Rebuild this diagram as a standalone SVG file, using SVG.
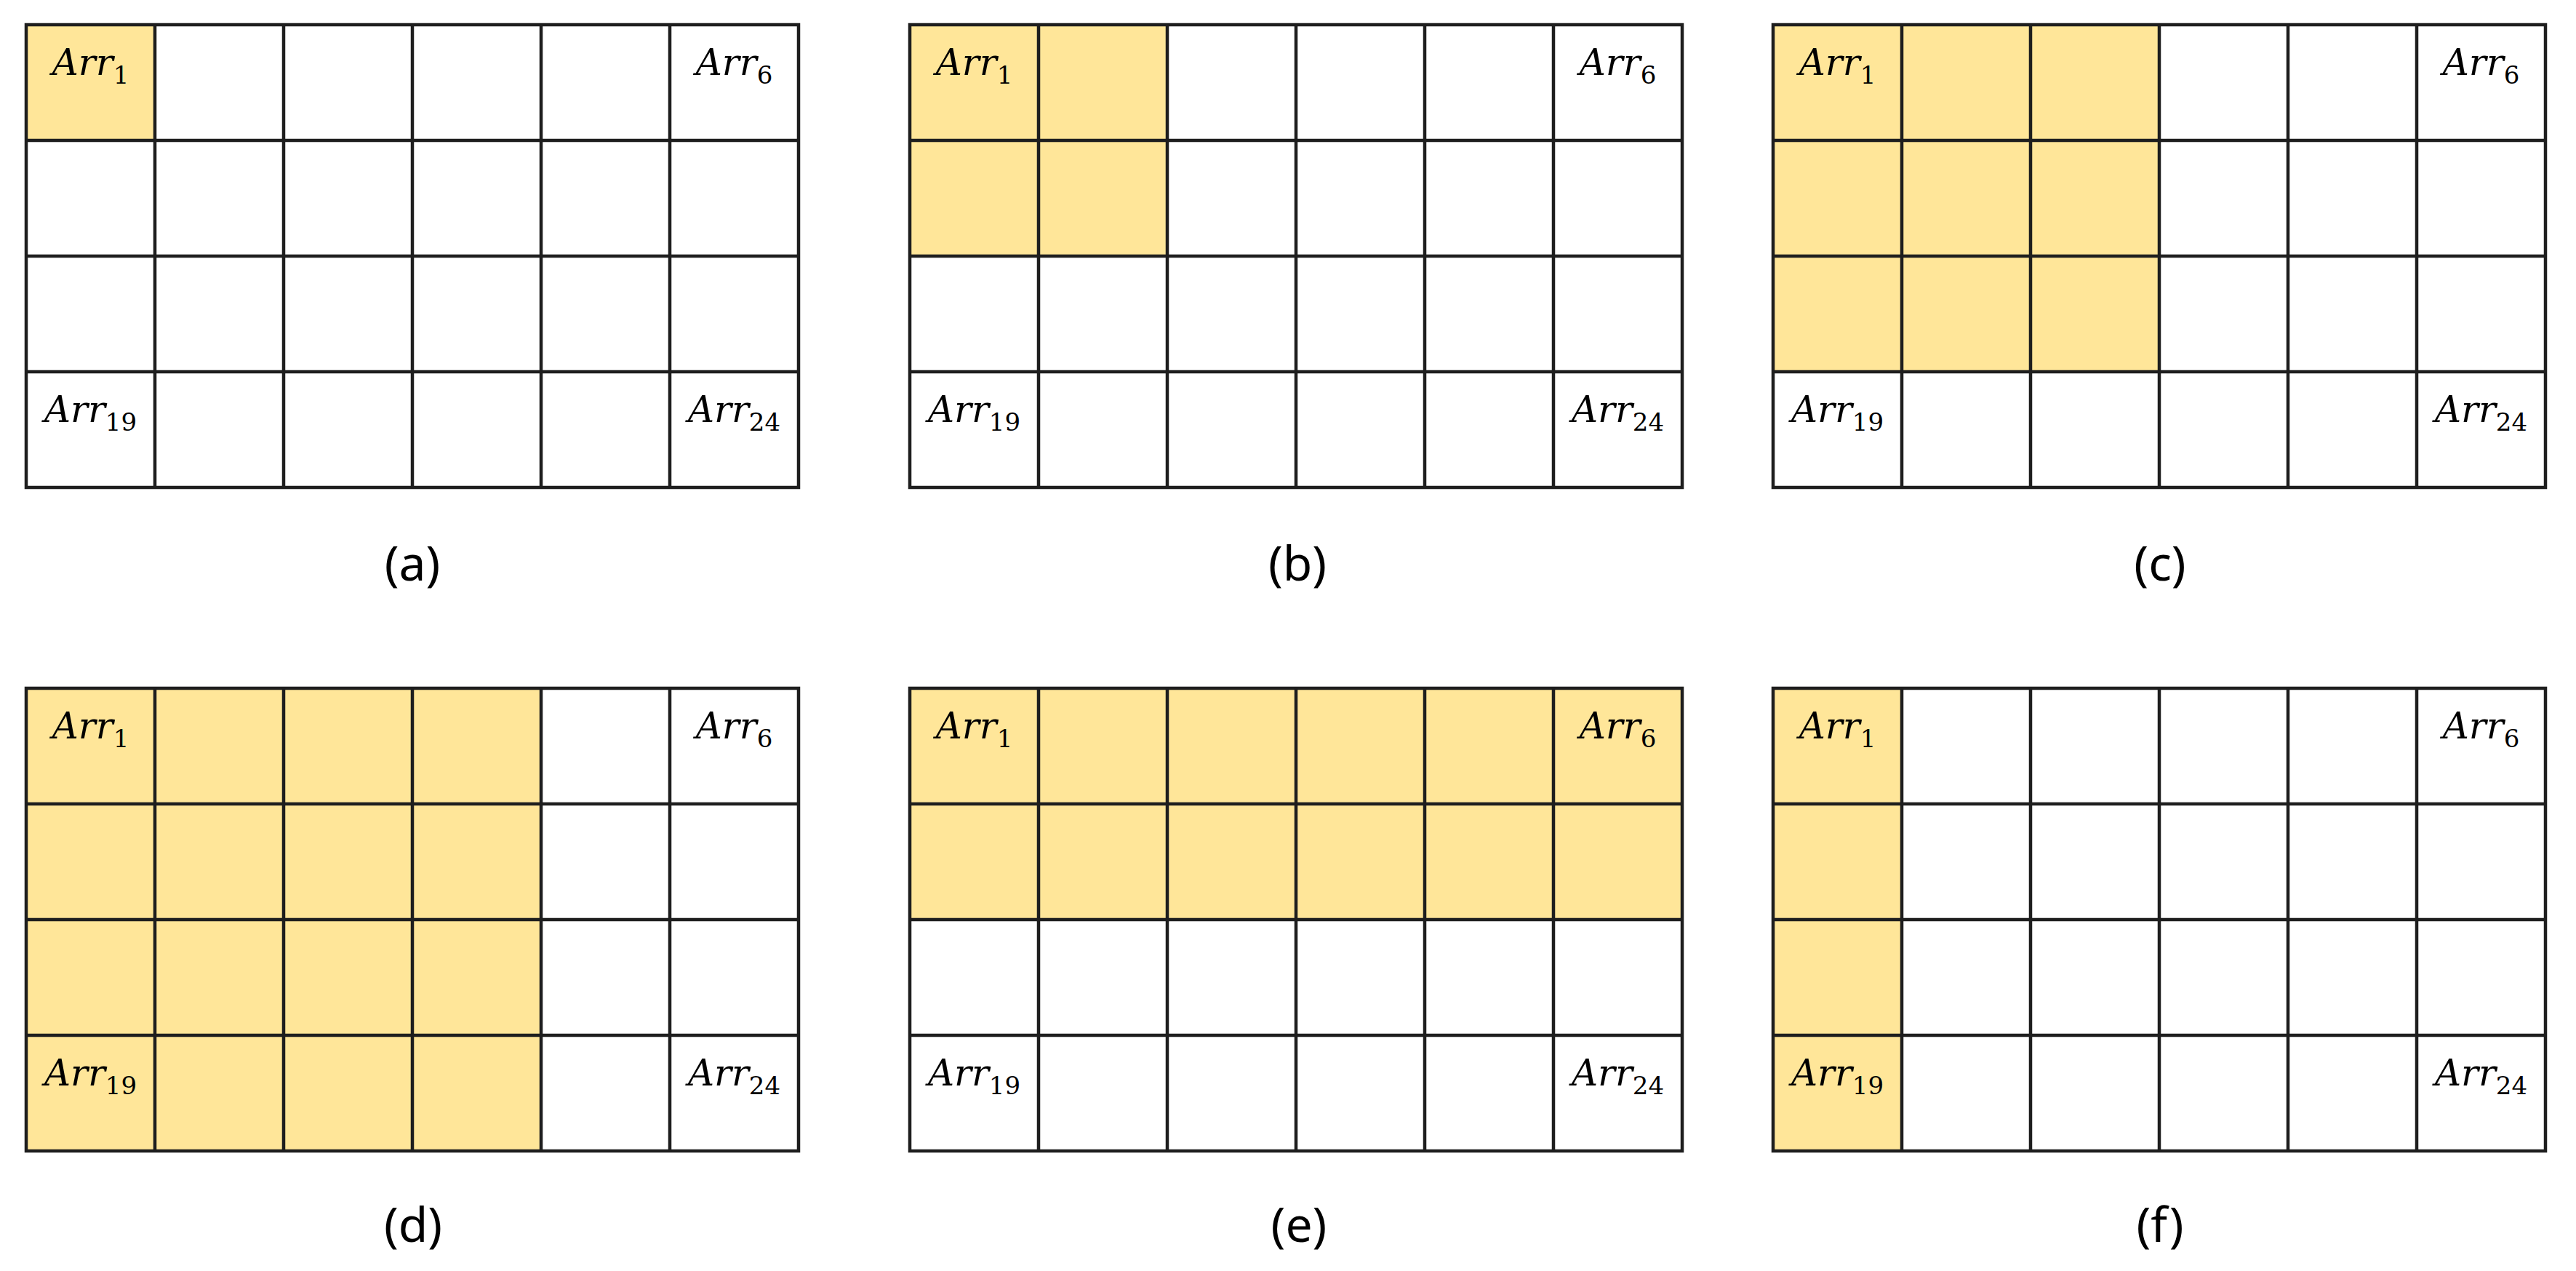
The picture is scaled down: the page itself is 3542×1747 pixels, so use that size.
<svg xmlns="http://www.w3.org/2000/svg" width="3542" height="1747" viewBox="0 0 3542 1747">
<style>
.hl{fill:#FFE699;stroke:none}
.grid{fill:none;stroke:#1e1e1e;stroke-width:4.5}
.ln{stroke:#1e1e1e;stroke-width:4.5}
.arr{font-family:"DejaVu Serif","Liberation Serif",serif;font-style:italic;font-size:50px;fill:#000;text-anchor:middle}
.sub{font-style:normal;font-size:34px}
.cap{font-family:"Noto Sans","Liberation Sans",sans-serif;font-size:66px;fill:#000;text-anchor:middle}
</style>
<defs>
<g id="lines">
<rect class="grid" x="0" y="0" width="1062" height="636"/>
<line class="ln" x1="177" y1="0" x2="177" y2="636"/>
<line class="ln" x1="354" y1="0" x2="354" y2="636"/>
<line class="ln" x1="531" y1="0" x2="531" y2="636"/>
<line class="ln" x1="708" y1="0" x2="708" y2="636"/>
<line class="ln" x1="885" y1="0" x2="885" y2="636"/>
<line class="ln" x1="0" y1="159" x2="1062" y2="159"/>
<line class="ln" x1="0" y1="318" x2="1062" y2="318"/>
<line class="ln" x1="0" y1="477" x2="1062" y2="477"/>
</g>
<g id="labels">
<text class="arr" x="88.5" y="69">Arr<tspan class="sub" dy="12">1</tspan></text>
<text class="arr" x="973.5" y="69">Arr<tspan class="sub" dy="12">6</tspan></text>
<text class="arr" x="88.5" y="546">Arr<tspan class="sub" dy="12">19</tspan></text>
<text class="arr" x="973.5" y="546">Arr<tspan class="sub" dy="12">24</tspan></text>
</g>
</defs>
<g id="panel-a" transform="translate(36,34)">
<rect class="hl" x="0" y="0" width="177" height="159"/>
<use href="#lines"/>
<use href="#labels"/>
</g>
<g id="panel-b" transform="translate(1251,34)">
<rect class="hl" x="0" y="0" width="354" height="318"/>
<use href="#lines"/>
<use href="#labels"/>
</g>
<g id="panel-c" transform="translate(2438,34)">
<rect class="hl" x="0" y="0" width="531" height="477"/>
<use href="#lines"/>
<use href="#labels"/>
</g>
<g id="panel-d" transform="translate(36,946)">
<rect class="hl" x="0" y="0" width="708" height="636"/>
<use href="#lines"/>
<use href="#labels"/>
</g>
<g id="panel-e" transform="translate(1251,946)">
<rect class="hl" x="0" y="0" width="1062" height="318"/>
<use href="#lines"/>
<use href="#labels"/>
</g>
<g id="panel-f" transform="translate(2438,946)">
<rect class="hl" x="0" y="0" width="177" height="636"/>
<use href="#lines"/>
<use href="#labels"/>
</g>
<g id="captions">
<text class="cap" x="567" y="798">(a)</text>
<text class="cap" x="1784" y="798">(b)</text>
<text class="cap" x="2970" y="798">(c)</text>
<text class="cap" x="568" y="1707">(d)</text>
<text class="cap" x="1786" y="1707">(e)</text>
<text class="cap" x="2970" y="1707">(f)</text>
</g>
<g id="connectors"/>
</svg>
